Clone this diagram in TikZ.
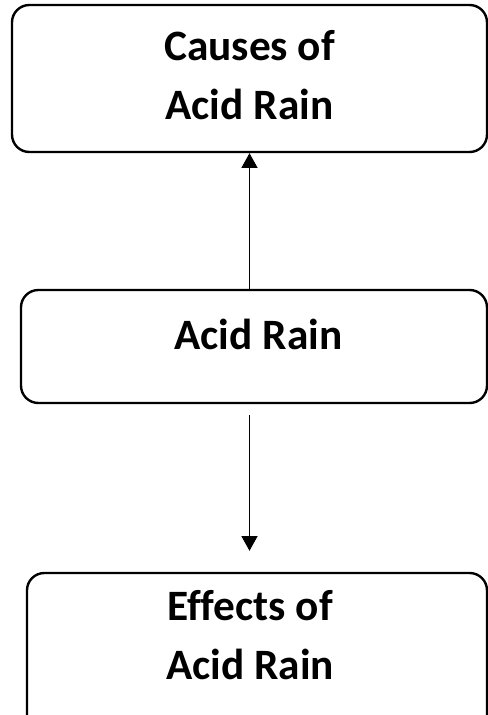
\documentclass[tikz,border=0pt]{standalone}
\usepackage{fontspec}
\setmainfont[Ligatures=NoCommon]{Carlito}
\usetikzlibrary{arrows.meta}
\begin{document}
\begin{tikzpicture}[x=0.75pt,y=-0.75pt,
    box/.style={draw,line width=1.8pt,rounded corners=13pt,minimum width=#1,inner sep=0pt},
    label/.style={font=\bfseries\fontsize{32.5pt}{44.25pt}\selectfont,align=center,inner sep=0pt},
    link/.style={line width=0.8pt,-{Triangle[length=11pt,width=12pt]}}]
    \clip (0,0) rectangle (488,715);
    \useasboundingbox (0,0) rectangle (488,715);
    \node [box=356.25pt,minimum height=110.25pt] (causes) at (249.5,78.5) {};
    \node [box=349.5pt,minimum height=84.75pt] (acid) at (254,346.5) {};
    \node [box=345pt,minimum height=121.5pt] (effects) at (257,654) {};
    \node [label] (causes text) at (249.5,75) {Causes of\\Acid Rain};
    \node [label,anchor=base] (acid text) at (258.5,349) {Acid Rain};
    \node [label] (effects text) at (250,635.5) {Effects of\\Acid Rain};
    \draw [link] (acid.north -| causes.south)--(causes.south);
    \draw [link,shorten <=8.25pt,shorten >=15.75pt] (acid.south -| causes.south)--(effects.north -| causes.south);
\end{tikzpicture}
\end{document}
